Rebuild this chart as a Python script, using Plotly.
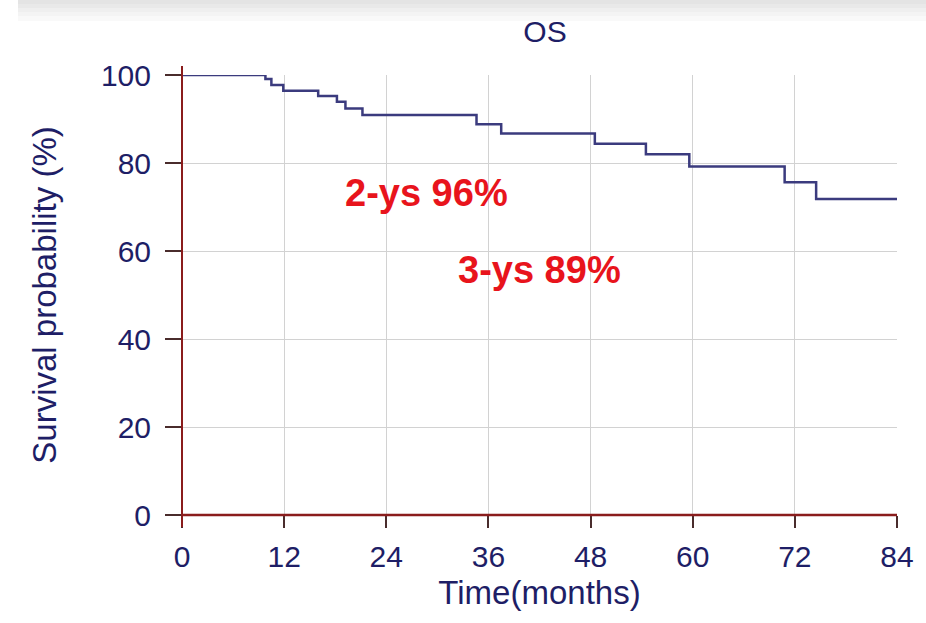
import plotly.graph_objects as go

# Kaplan-Meier step data (months, survival %)
times = [0, 9.8, 10.5, 11.9, 16.0, 18.2, 19.2, 21.2, 34.6, 37.5, 48.5, 54.5, 59.6, 70.8, 74.5, 84]
surv = [100, 99.1, 97.7, 96.4, 95.2, 93.9, 92.4, 90.9, 88.8, 86.7, 84.4, 82.0, 79.2, 75.6, 71.8, 71.8]

x_ticks = [0, 12, 24, 36, 48, 60, 72, 84]
y_ticks = [0, 20, 40, 60, 80, 100]

notes = ["2-ys 96%", "3-ys 89%"]
note_x = [28.7, 42.0]
note_y = [73.2, 55.7]

W, H = 926, 623
L, R, T, B = 182, 29, 75, 108
pw, ph = W - L - R, H - T - B

def px2paper_x(px):
    return (px - L) / pw

def py2paper_y(py):
    return (H - B - py) / ph

FONT = "Liberation Sans, Arial, sans-serif"
NAVY = "#1e1e66"
AXIS = "#8a1c1c"
TICK = "#4a2c2c"

fig = go.Figure()
fig.add_trace(go.Scatter(
    x=times, y=surv, mode="lines", line=dict(shape="hv", color="#3b3b7e", width=2.5),
    showlegend=False, hoverinfo="skip",
))

for t, xx, yy in zip(notes, note_x, note_y):
    fig.add_annotation(x=xx, y=yy, text=t, showarrow=False,
                       font=dict(family=FONT, size=38, color="#e8141c", weight="bold"))

shapes = []
# top gray band (gradient approximation)
band = [(0, 4, "#e4e4e4"), (4, 8, "#e9e9e9"), (8, 12, "#efefef"), (12, 16, "#f4f4f4"), (16, 21, "#f9f9f9")]
for a, b, c in band:
    shapes.append(dict(type="rect", xref="paper", yref="paper",
                       x0=px2paper_x(18), x1=px2paper_x(W), y0=py2paper_y(b), y1=py2paper_y(a),
                       fillcolor=c, line=dict(width=0), layer="below"))
# axis lines
shapes.append(dict(type="line", xref="paper", yref="paper", x0=0, x1=0,
                   y0=py2paper_y(527), y1=py2paper_y(66), line=dict(color=AXIS, width=2)))
shapes.append(dict(type="line", xref="paper", yref="paper", x0=0, x1=1,
                   y0=0, y1=0, line=dict(color=AXIS, width=2.5)))

fig.update_layout(
    width=W, height=H,
    margin=dict(l=L, r=R, t=T, b=B),
    paper_bgcolor="white", plot_bgcolor="white",
    shapes=shapes,
    title=dict(text="OS", x=px2paper_x(545), xref="paper", xanchor="center",
               y=1 - 31 / H, yanchor="middle", yref="container",
               font=dict(family=FONT, size=30, color=NAVY)),
    xaxis=dict(range=[0, 84], tickvals=x_ticks, ticks="outside", ticklen=12, tickwidth=2,
               tickcolor=TICK, showgrid=True, gridcolor="#d2d2d2", gridwidth=1,
               zeroline=False, showline=False, ticklabelstandoff=3,
               tickfont=dict(family=FONT, size=30, color=NAVY),
               title=dict(text="Time(months)", standoff=8,
                          font=dict(family=FONT, size=33, color=NAVY))),
    yaxis=dict(range=[0, 100], tickvals=y_ticks, ticks="outside", ticklen=16, tickwidth=2,
               tickcolor=TICK, showgrid=True, gridcolor="#d2d2d2", gridwidth=1,
               zeroline=False, showline=False, ticklabelstandoff=8,
               tickfont=dict(family=FONT, size=30, color=NAVY),
               title=dict(text="Survival probability (%)", standoff=34,
                          font=dict(family=FONT, size=33, color=NAVY))),
)

fig.write_html("out.html")
